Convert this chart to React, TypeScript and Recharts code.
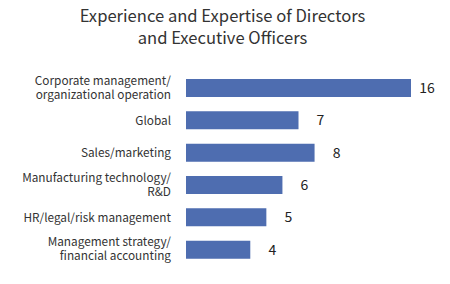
import React from 'react';
import { BarChart, Bar, XAxis, YAxis, LabelList } from 'recharts';

const categories = [
    'Corporate management/\norganizational operation',
    'Global',
    'Sales/marketing',
    'Manufacturing technology/\nR&D',
    'HR/legal/risk management',
    'Management strategy/\nfinancial accounting',
];
const counts = [16, 7, 8, 6, 5, 4];
const titleLines = ['Experience and Expertise of Directors', 'and Executive Officers'];

const data = categories.map((name, i) => ({ name, value: counts[i] }));

const FONT = '"Noto Sans CJK JP", "Noto Sans", sans-serif';
const MARGIN = { top: 72, right: 39, bottom: 18, left: 0 };
const PLOT_RIGHT = 450 - MARGIN.right;

const CategoryTick = (props: any) => {
    const { x, y, payload } = props;
    const lines: string[] = String(payload.value).split('\n');
    const startY = lines.length > 1 ? y - 3.5 : y + 4.5;
    return (
        <text x={x} y={startY} textAnchor="end" fill="#333333" fontSize={11.8} fontFamily={FONT}>
            {lines.map((line, i) => (
                <tspan key={i} x={x} dy={i === 0 ? 0 : 14}>
                    {line}
                </tspan>
            ))}
        </text>
    );
};

const ValueLabel = (props: any) => {
    const { x, y, width, height, value } = props;
    const end = Math.min(x + width, PLOT_RIGHT);
    const dx = x + width > PLOT_RIGHT ? 16 : 22;
    return (
        <text
            x={end + dx}
            y={y + height / 2 + 5}
            textAnchor="middle"
            fill="#222222"
            fontSize={14}
            fontFamily={FONT}
        >
            {value}
        </text>
    );
};

export default function App() {
    return (
        <div style={{ position: 'relative', width: 450, height: 284, background: '#ffffff' }}>
            <style>{'body{margin:0}'}</style>
            <div
                style={{
                    position: 'absolute',
                    top: 4,
                    left: 0,
                    width: 445,
                    textAlign: 'center',
                    fontFamily: FONT,
                    fontSize: 16.6,
                    lineHeight: '22px',
                    color: '#333333',
                }}
            >
                {titleLines.map((t) => (
                    <div key={t}>{t}</div>
                ))}
            </div>
            <BarChart width={450} height={284} data={data} layout="vertical" margin={MARGIN}>
                <XAxis type="number" hide domain={[0, 14]} allowDataOverflow />
                <YAxis
                    type="category"
                    dataKey="name"
                    width={186}
                    axisLine={false}
                    tickLine={false}
                    tickMargin={9}
                    tick={<CategoryTick />}
                    interval={0}
                />
                <Bar dataKey="value" fill="#4E6DB0" barSize={18} isAnimationActive={false}>
                    <LabelList dataKey="value" content={<ValueLabel />} />
                </Bar>
            </BarChart>
        </div>
    );
}
